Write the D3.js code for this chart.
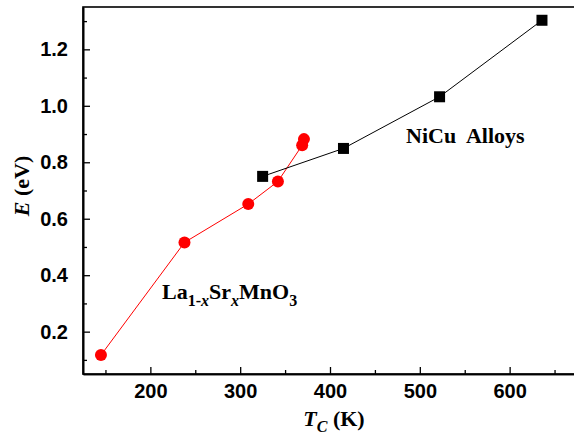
<!DOCTYPE html>
<html><head><meta charset="utf-8">
<script src="https://cdn.jsdelivr.net/npm/d3@7"></script>
<style>html,body{margin:0;padding:0;background:#fff;overflow:hidden}</style>
</head><body><svg id="c" width="574" height="437"></svg>
<script>
const lsmoTc = [145, 238, 309, 342, 369, 371];
const lsmoE  = [0.117, 0.516, 0.652, 0.732, 0.86, 0.882];
const nicuTc = [325, 415, 522, 636];
const nicuE  = [0.75, 0.849, 1.032, 1.303];
const xTicks = [200, 300, 400, 500, 600];
const xMinor = [150, 250, 350, 450, 550, 650];
const yTicks = [0.2, 0.4, 0.6, 0.8, 1.0, 1.2];
const yMinor = [0.1, 0.3, 0.5, 0.7, 0.9, 1.1, 1.3];

const svg = d3.select("#c");
const x = d3.scaleLinear().domain([125, 675]).range([83, 577]);
const y = d3.scaleLinear().domain([0.05, 1.35]).range([374, 7]);

// frame
svg.append("rect").attr("x", x(125)).attr("y", y(1.35))
  .attr("width", x(675) - x(125)).attr("height", y(0.05) - y(1.35))
  .attr("fill", "none").attr("stroke", "#000").attr("stroke-width", 1.6);

// axes
svg.append("g").attr("transform", `translate(0,${y(0.05)})`)
  .call(d3.axisBottom(x).tickValues(xTicks).tickSizeInner(-7).tickSizeOuter(0).tickPadding(10).tickFormat(d3.format("d")));
svg.append("g").attr("transform", `translate(0,${y(0.05)})`)
  .call(d3.axisBottom(x).tickValues(xMinor).tickSizeInner(-4).tickSizeOuter(0).tickFormat(""));
svg.append("g").attr("transform", `translate(${x(125)},0)`)
  .call(d3.axisLeft(y).tickValues(yTicks).tickSizeInner(-7).tickSizeOuter(0).tickPadding(15).tickFormat(d3.format(".1f")));
svg.append("g").attr("transform", `translate(${x(125)},0)`)
  .call(d3.axisLeft(y).tickValues(yMinor).tickSizeInner(-4).tickSizeOuter(0).tickFormat(""));
svg.selectAll(".domain").attr("stroke", "#000").attr("stroke-width", 1.6);
svg.selectAll(".tick line").attr("stroke", "#000").attr("stroke-width", 1.3);
svg.selectAll(".tick text").attr("font-family", "Liberation Sans, Arial, sans-serif")
  .attr("font-weight", "bold").attr("font-size", 20).attr("fill", "#000");

// lines
const lsmo = lsmoTc.map((t, i) => [t, lsmoE[i]]);
const nicu = nicuTc.map((t, i) => [t, nicuE[i]]);
const line = d3.line().x(d => x(d[0])).y(d => y(d[1]));
svg.append("path").datum(lsmo).attr("d", line).attr("fill", "none").attr("stroke", "#ff0000").attr("stroke-width", 1);
svg.append("path").datum(nicu).attr("d", line).attr("fill", "none").attr("stroke", "#000").attr("stroke-width", 1);
svg.selectAll(".sq").data(nicu).enter().append("rect")
  .attr("x", d => x(d[0]) - 5.5).attr("y", d => y(d[1]) - 5.5)
  .attr("width", 11).attr("height", 11).attr("fill", "#000");
svg.selectAll(".ci").data(lsmo).enter().append("circle")
  .attr("cx", d => x(d[0])).attr("cy", d => y(d[1])).attr("r", 6).attr("fill", "#ff0000");

const serif = "Liberation Serif, Times New Roman, serif";
// annotations
svg.append("text").attr("x", 406).attr("y", 143).attr("font-family", serif)
  .attr("font-weight", "bold").attr("font-size", 22).attr("xml:space", "preserve").text("NiCu  Alloys");
const la = svg.append("text").attr("x", 162).attr("y", 299).attr("font-family", serif)
  .attr("font-weight", "bold").attr("font-size", 22);
la.append("tspan").text("La");
la.append("tspan").attr("font-size", 16).attr("dy", 7).text("1-");
la.append("tspan").attr("font-size", 16).attr("font-style", "italic").text("x");
la.append("tspan").attr("dy", -7).text("Sr");
la.append("tspan").attr("font-size", 16).attr("dy", 7).attr("font-style", "italic").text("x");
la.append("tspan").attr("dy", -7).text("MnO");
la.append("tspan").attr("font-size", 16).attr("dy", 7).text("3");

// axis titles
const xt = svg.append("text").attr("x", 334).attr("y", 426).attr("text-anchor", "middle")
  .attr("font-family", serif).attr("font-weight", "bold").attr("font-size", 22);
xt.append("tspan").attr("font-style", "italic").text("T");
xt.append("tspan").attr("font-style", "italic").attr("font-size", 16).attr("dy", 6).text("C");
xt.append("tspan").attr("dy", -6).text(" (K)");
const yt = svg.append("text").attr("transform", "translate(29,186) rotate(-90)").attr("text-anchor", "middle")
  .attr("font-family", serif).attr("font-weight", "bold").attr("font-size", 22);
yt.append("tspan").attr("font-style", "italic").text("E");
yt.append("tspan").text(" (eV)");
</script></body></html>
